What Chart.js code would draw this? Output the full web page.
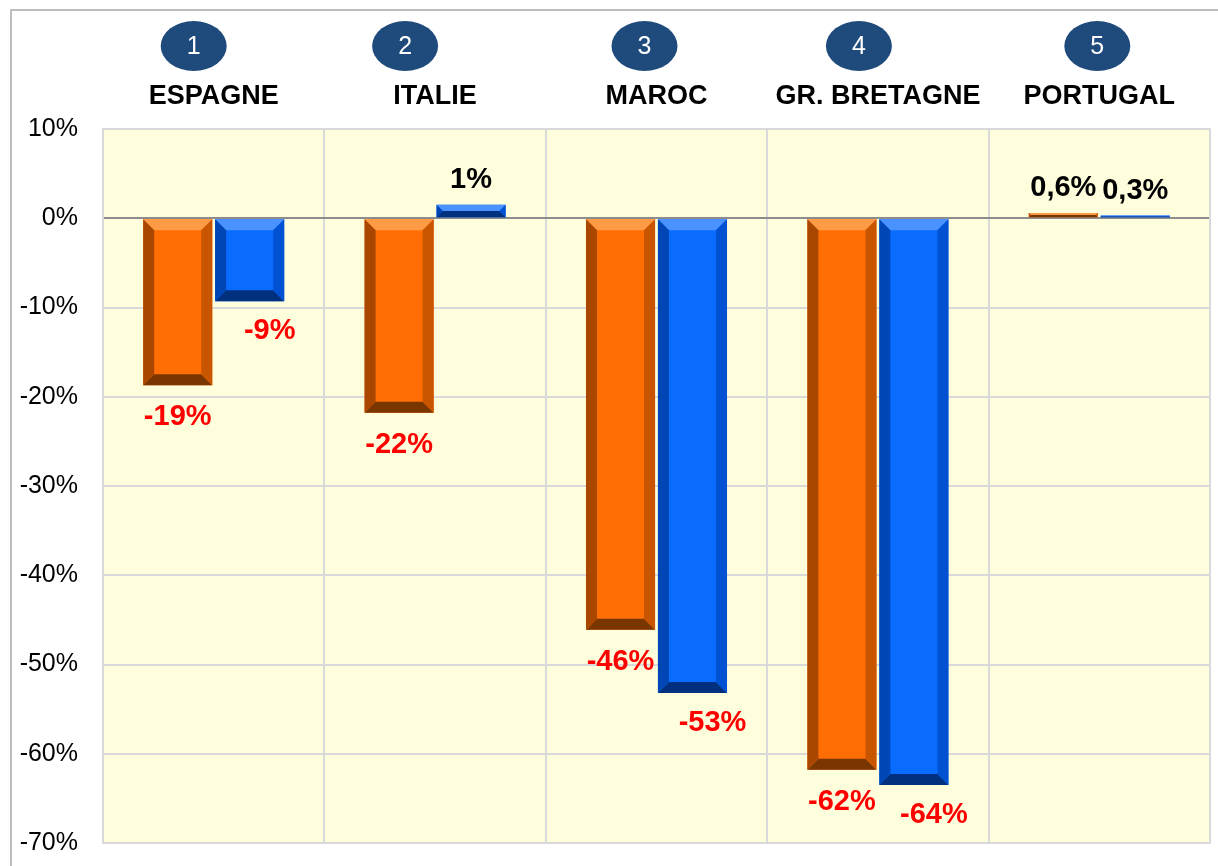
<!DOCTYPE html>
<html>
<head>
<meta charset="utf-8">
<script src="https://cdn.jsdelivr.net/npm/chart.js@4"></script>
<style>
  html, body { margin: 0; padding: 0; background: #fff; }
  #wrap { width: 1218px; height: 866px; position: relative; }
</style>
</head>
<body>
<div id="wrap"><canvas id="graphique"></canvas></div>
<script>
// Données
const pays = ['ESPAGNE', 'ITALIE', 'MAROC', 'GR. BRETAGNE', 'PORTUGAL'];
const rangs = ['1', '2', '3', '4', '5'];
const valeursOrange = [-18.7, -21.8, -46.1, -61.8, 0.6];
const valeursBleu = [-9.3, 1.5, -53.2, -63.5, 0.3];
const etiquettesOrange = ['-19%', '-22%', '-46%', '-62%', '0,6%'];
const etiquettesBleu = ['-9%', '1%', '-53%', '-64%', '0,3%'];
const ticksY = [10, 0, -10, -20, -30, -40, -50, -60, -70];

const police = '"Liberation Sans", Arial, sans-serif';

// Couleurs du biseau
const biseauOrange = { face: '#FF6E05', haut: '#FF9A45', gauche: '#A94700', droite: '#C85500', bas: '#7A3600' };
const biseauBleu = { face: '#0A6CFF', haut: '#4A92FF', gauche: '#0046B4', droite: '#0052D2', bas: '#00307E' };

// décalage des pastilles par rapport au centre de la catégorie
const decalagePastilles = [-20, -30, -12, -19, -2];

function poly(ctx, pts, couleur) {
  ctx.beginPath();
  ctx.moveTo(pts[0][0], pts[0][1]);
  for (let i = 1; i < pts.length; i++) ctx.lineTo(pts[i][0], pts[i][1]);
  ctx.closePath();
  ctx.fillStyle = couleur;
  ctx.fill();
}

// Fond de la zone de traçage + cadre
const fondPlugin = {
  id: 'fond',
  beforeDraw(chart) {
    const { ctx, chartArea: a } = chart;
    ctx.save();
    ctx.fillStyle = '#FEFEDC';
    ctx.fillRect(a.left, a.top, a.right - a.left, a.bottom - a.top);
    // cadre extérieur
    ctx.strokeStyle = '#BDBDBD';
    ctx.lineWidth = 2;
    ctx.beginPath();
    ctx.moveTo(11, 866);
    ctx.lineTo(11, 10);
    ctx.lineTo(1218, 10);
    ctx.stroke();
    ctx.restore();
  },
  afterDraw(chart) {
    const { ctx, chartArea: a } = chart;
    ctx.save();
    ctx.strokeStyle = '#D9D9D9';
    ctx.lineWidth = 2;
    ctx.strokeRect(a.left, a.top, a.right - a.left, a.bottom - a.top);
    ctx.restore();
  }
};

// Barres en biseau + étiquettes
const biseauPlugin = {
  id: 'biseau',
  afterDatasetsDraw(chart) {
    const ctx = chart.ctx;
    ctx.save();
    chart.data.datasets.forEach((ds, di) => {
      const meta = chart.getDatasetMeta(di);
      const c = di === 0 ? biseauOrange : biseauBleu;
      const etiquettes = di === 0 ? etiquettesOrange : etiquettesBleu;
      meta.data.forEach((bar, i) => {
        const p = bar.getProps(['x', 'y', 'base', 'width'], true);
        const x0 = p.x - p.width / 2, x1 = p.x + p.width / 2;
        const t = Math.min(p.y, p.base), bt = Math.max(p.y, p.base);
        const h = bt - t;
        const b = Math.min(11, h / 2, p.width / 2);
        poly(ctx, [[x0, t], [x1, t], [x1 - b, t + b], [x0 + b, t + b]], c.haut);
        poly(ctx, [[x0, bt], [x1, bt], [x1 - b, bt - b], [x0 + b, bt - b]], c.bas);
        poly(ctx, [[x0, t], [x0 + b, t + b], [x0 + b, bt - b], [x0, bt]], c.gauche);
        poly(ctx, [[x1, t], [x1 - b, t + b], [x1 - b, bt - b], [x1, bt]], c.droite);

        // étiquette
        const v = ds.data[i];
        ctx.font = 'bold 29px ' + police;
        ctx.textAlign = 'center';
        ctx.textBaseline = 'middle';
        if (v < 0) {
          ctx.fillStyle = '#FF0000';
          const dx = di === 0 ? 0 : 20;
          const dy = di === 0 ? 32 : 30;
          ctx.fillText(etiquettes[i], p.x + dx, bt + dy);
        } else {
          ctx.fillStyle = '#000000';
          ctx.fillText(etiquettes[i], p.x, t - 25);
        }
      });
    });
    ctx.restore();
  }
};

// Pastilles numérotées et noms des pays
const entetePlugin = {
  id: 'entete',
  afterDraw(chart) {
    const ctx = chart.ctx;
    const xs = chart.scales.x;
    ctx.save();
    pays.forEach((nom, i) => {
      const cx = xs.getPixelForValue(i);
      const px = cx + decalagePastilles[i];
      ctx.fillStyle = '#1F4A7C';
      ctx.beginPath();
      ctx.ellipse(px, 46, 33, 25, 0, 0, Math.PI * 2);
      ctx.fill();
      ctx.fillStyle = '#FFFFFF';
      ctx.font = '25px ' + police;
      ctx.textAlign = 'center';
      ctx.textBaseline = 'middle';
      ctx.fillText(rangs[i], px, 47);
      ctx.fillStyle = '#000000';
      ctx.font = 'bold 27px ' + police;
      ctx.fillText(nom, cx, 97);
    });
    ctx.restore();
  }
};

const ctx = document.getElementById('graphique').getContext('2d');
new Chart(ctx, {
  type: 'bar',
  data: {
    labels: pays,
    datasets: [
      { label: 'Série 1', data: valeursOrange, backgroundColor: biseauOrange.face, borderWidth: 0 },
      { label: 'Série 2', data: valeursBleu, backgroundColor: biseauBleu.face, borderWidth: 0 }
    ]
  },
  options: {
    responsive: true,
    maintainAspectRatio: false,
    animation: false,
    layout: { padding: { top: 129, left: 0, right: 8, bottom: 23 } },
    categoryPercentage: 0.65,
    barPercentage: 0.96,
    plugins: {
      legend: { display: false },
      tooltip: { enabled: false }
    },
    scales: {
      x: {
        afterFit(scale) { scale.height = 0; },
        ticks: { display: false },
        grid: { offset: true, color: '#D9D9D9', lineWidth: 2, drawTicks: false },
        border: { display: false }
      },
      y: {
        min: -70,
        max: 10,
        afterBuildTicks(scale) { scale.ticks = ticksY.map(v => ({ value: v })); },
        afterFit(scale) {
          scale.width = 103;
          scale.paddingTop = 0;
          scale.paddingBottom = 0;
        },
        ticks: {
          padding: 25,
          color: '#000000',
          font: { family: police, size: 25 },
          callback: v => v + '%'
        },
        grid: {
          drawTicks: false,
          lineWidth: 2,
          color: c => c.tick && c.tick.value === 0 ? '#8C8C8C' : '#D9D9D9'
        },
        border: { display: false }
      }
    }
  },
  plugins: [fondPlugin, biseauPlugin, entetePlugin]
});
</script>
</body>
</html>
